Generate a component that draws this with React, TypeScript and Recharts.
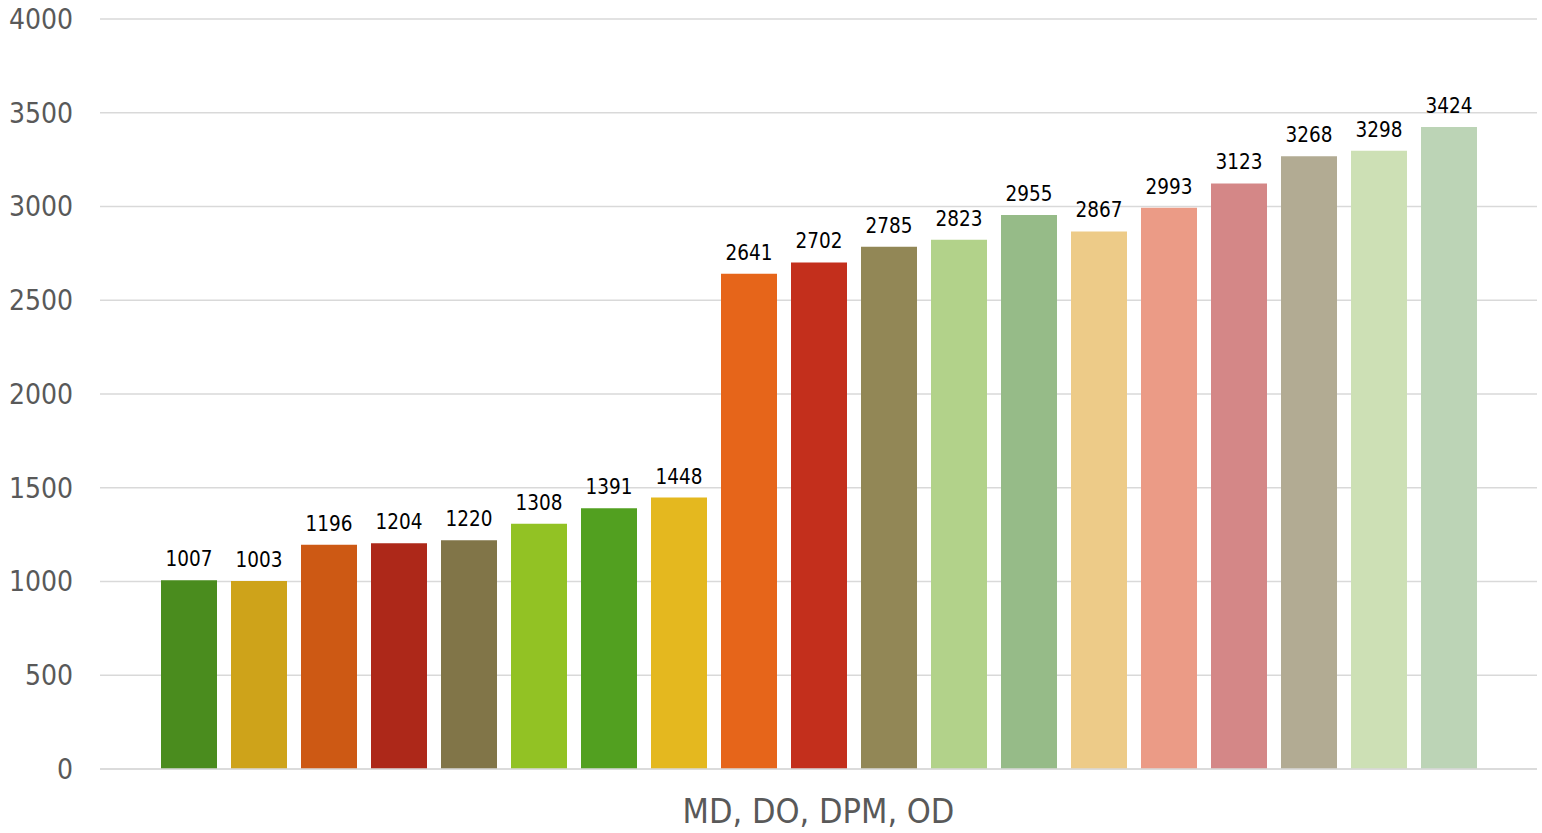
import React from "react";
import { BarChart, Bar, XAxis, YAxis, CartesianGrid, LabelList } from "recharts";

const category = "MD, DO, DPM, OD";
const seriesKeys = ["s1","s2","s3","s4","s5","s6","s7","s8","s9","s10","s11","s12","s13","s14","s15","s16","s17","s18","s19"];
const seriesValues = [1007, 1003, 1196, 1204, 1220, 1308, 1391, 1448, 2641, 2702, 2785, 2823, 2955, 2867, 2993, 3123, 3268, 3298, 3424];
const seriesColors = ["#4a8c1e","#cea31a","#cd5914","#ad2819","#817548","#92c224","#52a020","#e4b81f","#e6651a","#c32f1c","#928756","#b2d28a","#96bb88","#edcb88","#eb9b86","#d48787","#b2ab93","#cde0b5","#bcd4b6"];
const yTicks = [0, 500, 1000, 1500, 2000, 2500, 3000, 3500, 4000];

const row: Record<string, string | number> = { name: category };
seriesKeys.forEach((k, i) => { row[k] = seriesValues[i]; });
const data = [row];

const FONT = "'DejaVu Sans Condensed', 'DejaVu Sans', sans-serif";

export default function App() {
  return (
    <div style={{ position: "absolute", left: 0, top: 0, background: "#fff" }}>
      <BarChart
        width={1542}
        height={833}
        data={data}
        margin={{ top: 19, right: 5, bottom: 0, left: 0 }}
        barSize={56}
        barGap={14}
      >
        <CartesianGrid vertical={false} stroke="#d9d9d9" strokeWidth={1.5} />
        <XAxis
          dataKey="name"
          height={64}
          axisLine={{ stroke: "#d9d9d9", strokeWidth: 1.5 }}
          tickLine={false}
          tickMargin={24}
          tick={{ fontFamily: FONT, fontSize: 34, fill: "#595959" }}
        />
        <YAxis
          width={100}
          domain={[0, 4000]}
          ticks={yTicks}
          axisLine={false}
          tickLine={false}
          tickSize={0}
          tickMargin={27}
          tick={{ fontFamily: FONT, fontSize: 28, fill: "#595959" }}
        />
        {seriesKeys.map((k, i) => (
          <Bar key={k} dataKey={k} fill={seriesColors[i]} isAnimationActive={false}>
            <LabelList dataKey={k} position="top" offset={14} style={{ fontFamily: FONT, fontSize: 20.5, fill: "#000" }} />
          </Bar>
        ))}
      </BarChart>
    </div>
  );
}
